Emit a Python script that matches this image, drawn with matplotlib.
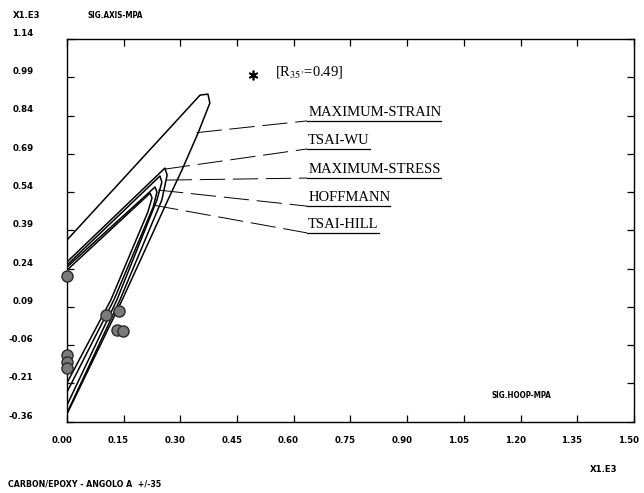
import matplotlib
matplotlib.use("Agg")
import matplotlib.pyplot as plt

plt.rcParams['mathtext.fontset'] = 'stix'

# assi (X1.E3)
x_ticks = [0.00, 0.15, 0.30, 0.45, 0.60, 0.75, 0.90, 1.05, 1.20, 1.35, 1.50]
y_ticks = [-0.36, -0.21, -0.06, 0.09, 0.24, 0.39, 0.54, 0.69, 0.84, 0.99, 1.14]

# inviluppi di rottura
strain_x = [0.0, 0.352, 0.373, 0.378, 0.347, 0.304, 0.267, 0.146, 0.0]
strain_y = [0.352, 0.920, 0.924, 0.889, 0.772, 0.626, 0.509, 0.117, -0.330]

tsaiwu_x = [0.0, 0.259, 0.265, 0.251, 0.140, 0.0]
tsaiwu_y = [0.266, 0.634, 0.607, 0.509, 0.117, -0.326]

stress_x = [0.0, 0.246, 0.251, 0.238, 0.132, 0.0]
stress_y = [0.254, 0.603, 0.579, 0.509, 0.117, -0.295]

hoff_x = [0.0, 0.233, 0.238, 0.228, 0.124, 0.0]
hoff_y = [0.246, 0.560, 0.540, 0.481, 0.117, -0.244]

hill_x = [0.0, 0.220, 0.225, 0.214, 0.116, 0.0]
hill_y = [0.234, 0.536, 0.517, 0.462, 0.117, -0.208]

# dati sperimentali
exp_x = [0.0, 0.103, 0.138, 0.132, 0.148, 0.0, 0.0, 0.0]
exp_y = [0.211, 0.058, 0.074, -0.001, -0.005, -0.099, -0.126, -0.150]

r35_x, r35_y = 0.492, 0.999

# etichette criteri e punti di partenza dei richiami
labels = ["MAXIMUM-STRAIN", "TSAI-WU", "MAXIMUM-STRESS", "HOFFMANN", "TSAI-HILL"]
label_y = [0.819, 0.709, 0.595, 0.485, 0.380]
lead_x = [0.343, 0.259, 0.264, 0.241, 0.228]
lead_y = [0.773, 0.630, 0.587, 0.548, 0.489]
label_x = 0.635

serif = ['Liberation Serif', 'DejaVu Serif']
plot_font = dict(family='DejaVu Sans', stretch='condensed', weight='bold')

fig = plt.figure(figsize=(6.44, 4.93), dpi=100)
ax = fig.add_axes([0.104, 0.1446, 0.8804, 0.7763])
ax.set_xlim(0, 1.5)
ax.set_ylim(-0.36, 1.14)

for xs, ys in [(strain_x, strain_y), (tsaiwu_x, tsaiwu_y), (stress_x, stress_y),
               (hoff_x, hoff_y), (hill_x, hill_y)]:
    ax.plot(xs, ys, color='black', lw=1.1)

ax.plot(exp_x, exp_y, 'o', ms=8, mfc='#7a7a7a', mec='#2a2a2a', mew=1.0, clip_on=False, zorder=5)
ax.plot([r35_x], [r35_y], marker=(6, 2, 0), ms=7, color='black', mew=1.2, ls='none')
ax.text(r35_x + 0.058, r35_y + 0.012, r"[R$_{35\prime}$=0.49]", family=serif, fontsize=10.5,
        va='center', ha='left')

for lab, ly, lx0, ly0 in zip(labels, label_y, lead_x, lead_y):
    ax.plot([lx0, label_x], [ly0, ly], color='black', lw=0.7, ls=(0, (26, 8)))
    t = ax.text(label_x + 0.003, ly + 0.008, lab, family=serif, fontsize=10.5,
                va='bottom', ha='left')
    fig.canvas.draw()
    bb = t.get_window_extent()
    x_end = ax.transData.inverted().transform((bb.x1, bb.y0))[0]
    ax.plot([label_x, x_end], [ly, ly], color='black', lw=0.9)

ax.set_xticks(x_ticks)
ax.set_yticks(y_ticks)
ax.tick_params(direction='in', length=5, width=0.9, top=True, right=True,
               labelbottom=False, labelleft=False)
for s in ax.spines.values():
    s.set_linewidth(1.0)

# etichette dei tick stile plotter
for xv in x_ticks:
    ax.text(xv - 0.014, -0.05, f"{xv:.2f}", transform=ax.get_xaxis_transform(),
            fontsize=6.8, ha='center', va='center', **plot_font)
for yv in y_ticks:
    ax.text(-0.059, yv + 0.022, f"{yv:.2f}", transform=ax.get_yaxis_transform(),
            fontsize=6.8, ha='right', va='center', **plot_font)

fig.text(13 / 644, 1 - 15 / 493, "X1.E3", fontsize=6.8, va='center', **plot_font)
fig.text(87 / 644, 1 - 15 / 493, "SIG.AXIS-MPA", fontsize=5.8, va='center', **plot_font)
fig.text(492 / 644, 1 - 396 / 493, "SIG.HOOP-MPA", fontsize=5.8, va='center', **plot_font)
fig.text(590 / 644, 1 - 470 / 493, "X1.E3", fontsize=6.8, va='center', **plot_font)
fig.text(8 / 644, 1 - 484 / 493, "CARBON/EPOXY - ANGOLO A  +/-35", fontsize=6.3,
         va='center', **plot_font)

fig.savefig("out.png", dpi=100)
